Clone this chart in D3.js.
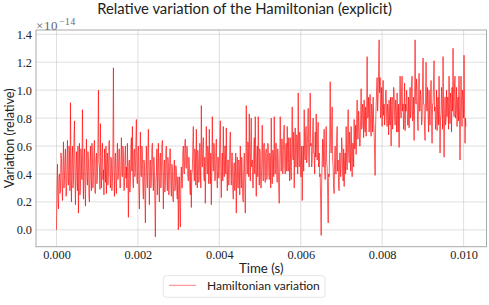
<!DOCTYPE html>
<html><head><meta charset="utf-8">
<script src="https://cdn.jsdelivr.net/npm/d3@7"></script>
<style>body{margin:0;background:#fff}svg{display:block}</style>
</head><body>
<script>
const title = "Relative variation of the Hamiltonian (explicit)";
const xLabel = "Time (s)";
const yLabel = "Variation (relative)";
const seriesName = "Hamiltonian variation";
const offsetBase = "×10";
const offsetExp = "−14";
const xTicks = [0, 0.002, 0.004, 0.006, 0.008, 0.010];
const xTickLabels = ["0.000", "0.002", "0.004", "0.006", "0.008", "0.010"];
const yTicks = [0.0, 0.2, 0.4, 0.6, 0.8, 1.0, 1.2, 1.4];
const yTickLabels = ["0.0", "0.2", "0.4", "0.6", "0.8", "1.0", "1.2", "1.4"];
const tEnd = 0.01006;
// relative variation, in units of 1e-14
const variation = [
0.00,0.30,0.47,0.22,0.15,0.38,0.40,0.26,0.28,0.55,0.50,0.33,0.21,0.45,0.63,0.30,0.36,0.52,0.58,0.24,
0.25,0.48,0.64,0.35,0.32,0.60,0.55,0.28,0.91,0.40,0.20,0.52,0.60,0.30,0.34,0.66,0.78,0.38,0.18,0.45,
0.56,0.35,0.28,0.60,0.12,0.44,0.62,0.25,0.30,0.58,0.48,0.36,0.86,0.42,0.22,0.52,0.58,0.31,0.17,0.47,
0.65,0.38,0.32,0.56,0.50,0.24,0.20,0.46,0.60,0.35,0.28,0.62,0.52,0.30,0.38,0.57,0.64,0.27,0.26,0.50,
0.55,0.33,0.40,0.61,1.00,0.48,0.45,0.29,0.76,0.40,0.30,0.55,0.62,0.36,0.43,0.25,0.58,0.44,0.34,0.60,
0.26,0.47,0.55,0.32,0.40,0.63,0.64,0.38,0.30,0.52,0.50,0.28,0.35,0.58,1.16,0.42,0.24,0.50,0.55,0.33,
0.26,0.49,0.62,0.36,0.40,0.57,0.58,0.30,0.30,0.46,0.66,0.40,0.38,0.60,0.55,0.28,0.29,0.52,0.60,0.37,
0.45,0.30,0.62,0.40,0.09,0.48,0.50,0.27,0.35,0.60,0.66,0.42,0.74,0.33,0.30,0.56,0.58,0.38,0.42,0.64,
0.79,0.36,0.33,0.55,0.60,0.28,0.15,0.45,0.70,0.40,0.38,0.60,0.55,0.30,0.22,0.50,0.48,0.26,0.05,0.42,
0.60,0.36,0.30,0.55,0.72,0.40,0.18,0.47,0.50,0.30,0.35,0.58,0.62,0.38,0.28,0.52,0.44,0.20,-0.05,0.35,
0.40,0.58,0.25,0.45,0.62,0.33,0.20,0.50,0.55,0.30,0.38,0.60,0.64,0.40,0.15,0.44,0.50,0.27,0.32,0.57,
0.60,0.36,0.28,0.52,0.48,0.25,0.36,0.58,0.58,0.32,0.24,0.47,0.45,0.22,0.20,0.40,0.50,0.28,0.30,0.46,
0.42,0.26,0.22,0.38,0.00,0.30,0.38,0.15,0.02,0.35,0.45,0.30,0.30,0.55,0.60,0.42,0.40,0.62,0.65,0.45,
0.44,0.60,0.58,0.38,0.35,0.52,0.47,0.30,0.25,0.43,0.16,0.40,0.42,0.60,0.74,0.45,0.35,0.58,0.55,0.32,
0.72,0.44,0.30,0.57,0.50,0.34,0.38,0.62,0.46,0.30,0.89,0.50,0.45,0.60,0.66,0.38,0.35,0.52,0.19,0.45,
0.74,0.47,0.40,0.60,0.55,0.33,0.72,0.46,0.33,0.55,0.18,0.42,0.81,0.50,0.42,0.62,0.60,0.35,0.36,0.55,
0.65,0.40,0.30,0.52,0.52,0.37,0.45,0.63,0.78,0.42,0.23,0.48,0.55,0.35,0.74,0.50,0.38,0.60,0.60,0.40,
0.73,0.45,0.28,0.50,0.50,0.32,0.40,0.60,0.70,0.44,0.32,0.55,0.55,0.30,0.22,0.45,0.48,0.28,0.38,0.55,
0.12,0.40,0.52,0.30,0.30,0.50,0.45,0.25,0.60,0.42,0.30,0.52,0.40,0.22,0.20,0.45,0.55,0.33,0.12,0.40,
0.89,0.52,0.40,0.63,0.62,0.38,0.83,0.55,0.35,0.60,0.80,0.45,0.50,0.30,0.30,0.55,0.66,0.40,0.81,0.48,
0.24,0.50,0.60,0.38,0.81,0.52,0.32,0.58,0.55,0.30,0.30,0.50,0.75,0.45,0.35,0.60,0.62,0.40,0.34,0.55,
0.58,0.36,0.38,0.62,0.60,0.42,0.36,0.55,0.52,0.30,0.80,0.48,0.33,0.57,0.55,0.38,0.81,0.50,0.40,0.62,
0.62,0.40,0.34,0.58,0.50,0.30,0.19,0.48,0.81,0.55,0.42,0.65,0.65,0.40,0.45,0.70,0.75,0.48,0.40,0.60,
0.62,0.42,0.74,0.50,0.42,0.66,0.50,0.35,0.66,0.45,0.36,0.60,0.88,0.52,0.50,0.70,0.30,0.55,0.73,0.45,
0.45,0.68,0.65,0.40,0.98,0.55,0.45,0.70,0.62,0.38,0.38,0.60,0.21,0.50,0.60,0.42,0.86,0.55,0.50,0.72,
0.74,0.48,0.55,0.70,0.87,0.52,0.45,0.66,0.98,0.60,0.62,0.45,0.50,0.72,0.80,0.55,0.55,0.40,0.70,0.52,
0.83,0.58,0.50,0.68,0.77,0.45,0.55,0.38,0.40,0.20,-0.04,0.35,0.50,0.65,0.45,0.60,0.72,0.42,0.36,0.55,
0.74,0.48,0.45,0.25,0.05,0.40,0.38,0.60,1.06,0.62,0.55,0.75,0.88,0.50,0.45,0.30,0.26,0.52,0.60,0.40,
0.40,0.65,0.74,0.42,0.50,0.30,0.28,0.55,0.55,0.38,0.45,0.66,0.60,0.40,0.35,0.58,0.31,0.50,0.55,0.40,
0.74,0.50,0.43,0.65,0.86,0.55,0.48,0.70,0.60,0.42,0.74,0.55,0.38,0.62,0.62,0.45,0.79,0.58,0.60,0.75,
0.54,0.78,0.93,0.65,0.65,0.85,0.74,0.60,0.60,0.80,1.01,0.72,0.74,0.90,0.85,0.66,0.93,0.75,0.70,0.88,
0.67,0.85,1.24,0.80,0.81,0.95,0.70,0.88,0.97,0.72,0.67,0.90,0.85,0.70,0.95,0.78,0.70,0.55,0.39,0.75,
0.88,1.00,1.09,0.85,0.95,1.15,1.36,0.98,1.09,0.80,0.85,1.02,0.74,0.92,1.07,0.82,0.90,0.75,0.83,0.98,
1.00,0.80,0.74,0.90,0.85,0.68,0.93,0.78,0.75,0.95,0.60,0.85,0.95,0.72,0.80,1.02,1.00,0.82,0.75,0.93,
0.85,0.70,0.98,0.80,0.70,0.90,0.59,0.85,1.10,0.88,0.80,1.00,1.10,0.85,0.90,0.72,0.83,1.05,0.71,0.90,
0.85,1.00,0.93,0.75,0.75,0.95,0.73,0.88,1.02,0.80,0.85,1.05,1.10,0.78,0.80,0.95,0.64,0.90,1.36,0.95,
0.90,1.08,1.00,0.78,0.71,0.92,1.12,0.85,0.85,1.00,0.95,0.75,0.78,1.05,1.23,0.90,0.90,0.72,0.64,0.95,
1.20,0.88,0.85,1.02,0.83,0.70,1.00,0.80,0.75,0.95,1.07,0.82,0.62,0.90,0.90,1.05,1.21,0.85,0.88,0.72,
0.80,1.00,0.71,0.88,0.95,0.75,1.10,0.85,0.55,0.80,0.83,1.02,0.90,0.72,1.24,0.88,0.52,0.80,0.95,0.75,
0.78,1.00,0.81,0.95,0.95,0.72,1.10,0.85,0.76,0.98,0.90,0.70,1.02,0.85,1.30,0.92,0.81,1.05,1.10,0.80,
0.85,1.02,0.74,0.90,0.95,0.78,1.10,0.82,0.50,0.85,1.10,0.90,0.74,1.00,0.95,0.80,1.25,0.90,0.62,0.80,
0.74
];

const W = 489, H = 305;
const L = 36, R = 486.5, T = 30, B = 246.7;
const svg = d3.select("body").append("svg").attr("width", W).attr("height", H);

const times = d3.range(variation.length).map(i => i * tEnd / (variation.length - 1));
const pts = times.map((t, i) => [t, variation[i]]);

const x = d3.scaleLinear().domain([-0.05 * tEnd, 1.05 * tEnd]).range([L, R]);
const [vmin, vmax] = d3.extent(variation);
const m = 0.05 * (vmax - vmin);
const y = d3.scaleLinear().domain([vmin - m, vmax + m]).range([B, T]);

const serif = "'Liberation Serif', 'DejaVu Serif', serif";
const sans = "Lato, 'DejaVu Sans', sans-serif";

function fit(sel, w) {
  const l = sel.node().getComputedTextLength();
  const fs = parseFloat(sel.attr("font-size"));
  sel.attr("font-size", fs * w / l);
}

// grid
const grid = svg.append("g").attr("stroke", "#b0b0b0").attr("stroke-opacity", 0.45).attr("stroke-width", 0.9);
grid.selectAll(".gx").data(xTicks).join("line")
  .attr("x1", d => x(d)).attr("x2", d => x(d)).attr("y1", T).attr("y2", B);
grid.selectAll(".gy").data(yTicks).join("line")
  .attr("x1", L).attr("x2", R).attr("y1", d => y(d)).attr("y2", d => y(d));

// data line
const line = d3.line().x(d => x(d[0])).y(d => y(d[1]));
svg.append("path").datum(pts).attr("d", line)
  .attr("fill", "none").attr("stroke", "red").attr("stroke-opacity", 0.8)
  .attr("stroke-width", 0.8).attr("stroke-linejoin", "round");

// spines
svg.append("rect").attr("x", L).attr("y", T).attr("width", R - L).attr("height", B - T)
  .attr("fill", "none").attr("stroke", "#aaaaaa").attr("stroke-width", 1);

// axes (labels only, no tick marks)
const xAxis = d3.axisBottom(x).tickValues(xTicks).tickFormat((d, i) => xTickLabels[i]).tickSize(0).tickPadding(0);
const gx = svg.append("g").attr("transform", `translate(0,${B})`).call(xAxis);
gx.select(".domain").remove();
gx.attr("font-family", null).attr("font-size", null);
gx.selectAll("text").style("font-family", serif).style("font-size", "12.3px").attr("fill", "#222")
  .attr("dy", null).attr("y", 12.6);

const yAxis = d3.axisLeft(y).tickValues(yTicks).tickFormat((d, i) => yTickLabels[i]).tickSize(0).tickPadding(4);
const gy = svg.append("g").attr("transform", `translate(${L},0)`).call(yAxis);
gy.select(".domain").remove();
gy.attr("font-family", null).attr("font-size", null);
gy.selectAll("text").style("font-family", serif).style("font-size", "12.3px").attr("fill", "#222")
  .attr("dy", "0.33em");

// offset text
const off = svg.append("text").attr("x", 36).attr("y", 29.5).style("font-family", serif)
  .attr("font-size", 13).attr("fill", "#666").attr("letter-spacing", 0.6);
off.append("tspan").text(offsetBase);
off.append("tspan").attr("font-size", 9.5).attr("dx", 1).attr("dy", -5).text(offsetExp);

// title
const tt = svg.append("text").attr("x", 244.5).attr("y", 14).attr("text-anchor", "middle")
  .style("font-family", sans).attr("font-size", 14).attr("fill", "#222").text(title);
fit(tt, 295);

// x label
const xl = svg.append("text").attr("x", (L + R) / 2).attr("y", 273).attr("text-anchor", "middle")
  .style("font-family", sans).attr("font-size", 13).attr("fill", "#222").text(xLabel);
fit(xl, 44.5);

// y label
const yl = svg.append("text").attr("transform", `translate(14,${(T + B) / 2}) rotate(-90)`)
  .attr("text-anchor", "middle").style("font-family", sans).attr("font-size", 13).attr("fill", "#222").text(yLabel);
fit(yl, 100);

// legend
const lg = svg.append("g");
lg.append("rect").attr("x", 163.3).attr("y", 275.7).attr("width", 161.7).attr("height", 21.6)
  .attr("rx", 3).attr("fill", "#fff").attr("fill-opacity", 0.8).attr("stroke", "#dddddd").attr("stroke-width", 0.8);
lg.append("line").attr("x1", 169).attr("x2", 196).attr("y1", 285.3).attr("y2", 285.3)
  .attr("stroke", "red").attr("stroke-opacity", 0.55).attr("stroke-width", 0.9);
const lt = lg.append("text").attr("x", 207).attr("y", 290).style("font-family", sans)
  .attr("font-size", 13).attr("fill", "#222").text(seriesName);
fit(lt, 113);
</script>
</body></html>
